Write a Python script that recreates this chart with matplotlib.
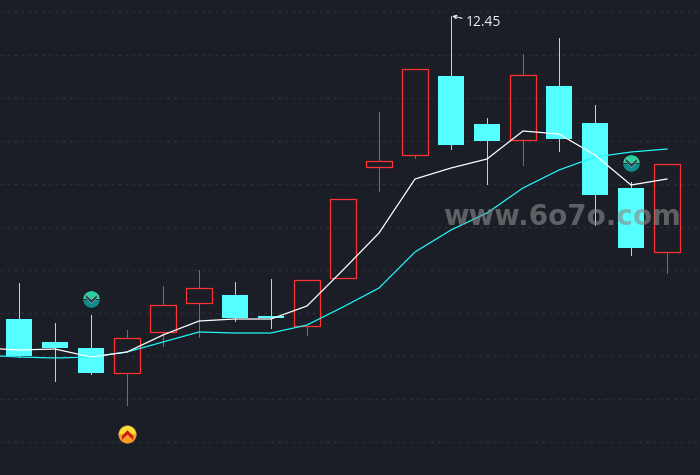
import matplotlib
matplotlib.use("Agg")
import matplotlib.pyplot as plt
from matplotlib.patches import Rectangle

# candles, price
highs  = [9.78, 9.38, 9.46, 9.31, 9.75, 9.91, 9.79, 9.82, 9.81, 10.62, 11.49, 11.92, 12.45, 11.43, 12.07, 12.23, 11.56, 10.79, 10.97]
tops   = [9.42, 9.19, 9.13, 9.23, 9.56, 9.73, 9.66, 9.45, 9.81, 10.62, 11.00, 11.92, 11.85, 11.37, 11.86, 11.75, 11.38, 10.73, 10.97]
bots   = [9.05, 9.13, 8.88, 8.88, 9.29, 9.58, 9.43, 9.43, 9.35, 9.83, 10.94, 11.06, 11.16, 11.20, 11.21, 11.22, 10.66, 10.13, 10.09]
lows   = [9.04, 8.80, 8.87, 8.56, 9.15, 9.24, 9.40, 9.33, 9.26, 9.83, 10.70, 11.03, 11.12, 10.77, 10.96, 11.10, 10.36, 10.06, 9.88]
is_up  = [0, 0, 0, 1, 1, 1, 0, 0, 1, 1, 1, 1, 0, 0, 1, 0, 0, 0, 1]

# moving averages, first point sits just off the left edge
ma_x = list(range(-1, 19))
ma_fast = [9.13, 9.11, 9.12, 9.04, 9.09, 9.26, 9.40, 9.42, 9.42, 9.55, 9.91, 10.28, 10.82, 10.93, 11.02, 11.30, 11.27, 11.06, 10.76, 10.82]
ma_slow = [9.06, 9.04, 9.03, 9.04, 9.09, 9.19, 9.29, 9.28, 9.28, 9.36, 9.54, 9.73, 10.09, 10.31, 10.48, 10.73, 10.91, 11.04, 11.09, 11.12]

grid_levels = [12.49, 12.06, 11.63, 11.20, 10.77, 10.34, 9.91, 9.48, 9.05, 8.62, 8.19]

sell_x = [2, 17]
sell_y = [9.62, 10.98]
buy_x = [3]
buy_y = [8.27]

BG = "#1b1e27"
RED = "#ff3232"
CYAN = "#54ffff"

# chevron shapes for the badges
chevron_up = [(-1, -0.3), (0, 0.7), (1, -0.3), (1, -0.9), (0, 0.05), (-1, -0.9)]
chevron_down = [(x, -y) for x, y in chevron_up]

fig = plt.figure(figsize=(7, 4.75), dpi=100, facecolor=BG)
ax = fig.add_axes([0, 0, 1, 1], facecolor=BG)
ax.set_xlim(-0.528, 18.917)
ax.set_ylim(7.86, 12.61)
ax.axis("off")

for lv in grid_levels:
    ax.axhline(lv, color="#2c2f37", lw=1, ls=(0, (2, 3)), zorder=1)

w = 0.74
for i in range(len(highs)):
    col = RED if is_up[i] else CYAN
    ax.vlines(i, tops[i], highs[i], color=col, lw=0.72, antialiased=False, zorder=2)
    ax.vlines(i, lows[i], bots[i], color=col, lw=0.72, antialiased=False, zorder=2)
    if is_up[i]:
        ax.add_patch(Rectangle((i - w / 2 + 0.01, bots[i]), w - 0.02, tops[i] - bots[i], fill=False, ec=col, lw=0.9, snap=True, zorder=3))
    else:
        ax.add_patch(Rectangle((i - w / 2, bots[i]), w, tops[i] - bots[i], fc=col, ec="none", snap=True, zorder=3))

ax.plot(ma_x, ma_slow, color="#22f5f5", lw=0.9, zorder=4)
ax.plot(ma_x, ma_fast, color="white", lw=0.9, zorder=5)

# signal badges
ax.plot(sell_x, sell_y, "o", ms=12.5, fillstyle="top", mfc="#2ad09a", markerfacecoloralt="#128a8c", mec="#101216", mew=0.4, zorder=6)
ax.plot(sell_x, sell_y, ls="none", marker=chevron_down, ms=8, mfc="#1c3f4a", mec="#b8d8d8", mew=0.3, zorder=7)
ax.plot(buy_x, buy_y, "o", ms=12.5, fillstyle="top", mfc="#ffdc3a", markerfacecoloralt="#ff9d20", mec="#f5b820", mew=0.4, zorder=6)
ax.plot(buy_x, buy_y, ls="none", marker=chevron_up, ms=8, mfc="#c2201a", mec="#c2201a", mew=0.3, zorder=7)

# highest price label
ax.annotate("12.45", xy=(12.03, 12.45), xytext=(12.42, 12.38), color="#e6effa", fontsize=10,
            family="Open Sans", va="center", ha="left",
            arrowprops=dict(arrowstyle="->", color="white", lw=0.8, ls=(0, (3, 1)), shrinkA=1, shrinkB=0, mutation_scale=6))

ax.text(15.08, 10.44, "www.6o7o.com", color="#8a8a8a", alpha=0.62, fontsize=20, fontweight="bold",
        family="DejaVu Sans", ha="center", va="center", zorder=8)

fig.savefig("out.png", dpi=100, facecolor=BG)
